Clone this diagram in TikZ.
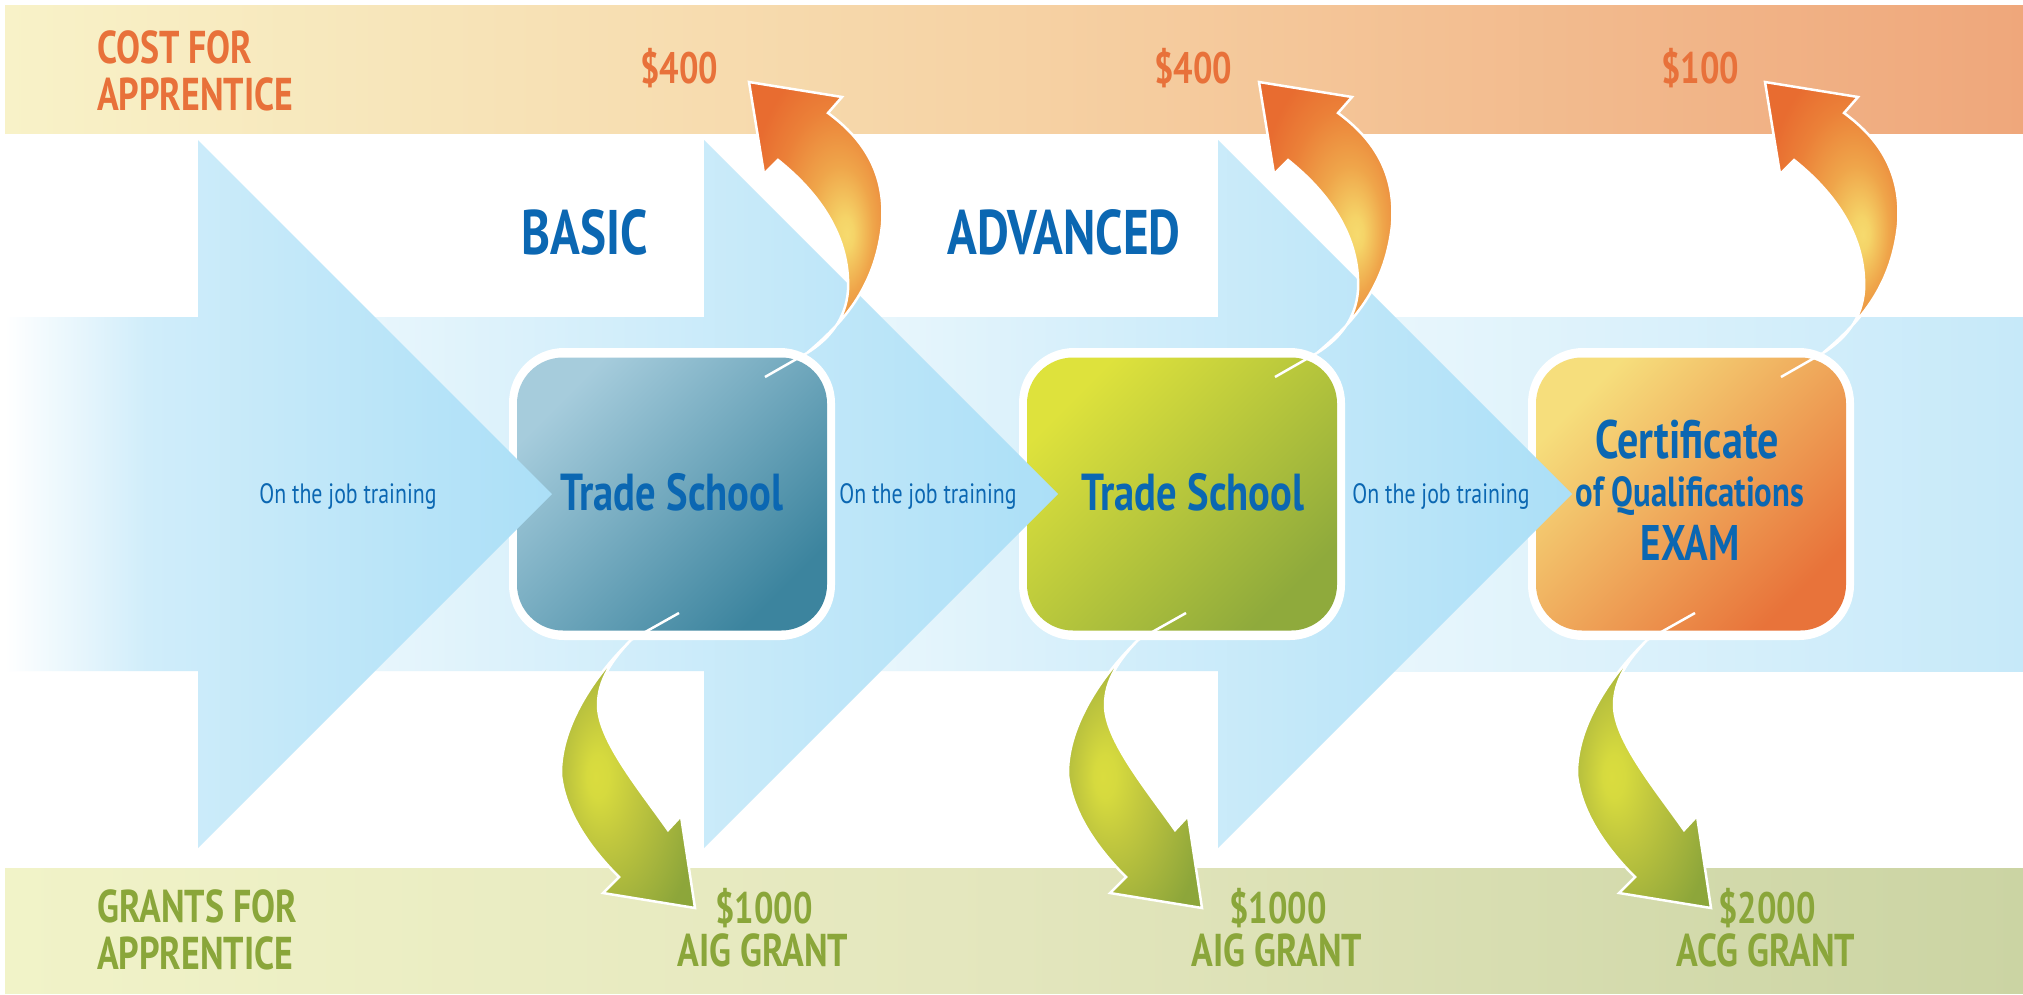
\documentclass[tikz,border=0pt]{standalone}
\usepackage{fontspec}
\newfontfamily\cf[FakeStretch=0.78]{PT Sans}
\definecolor{txtblue}{HTML}{0B67B2}
\definecolor{txtorange}{HTML}{E8713A}
\definecolor{txtgreen}{HTML}{8AA63A}
\pgfdeclarehorizontalshading{topband}{100bp}{color(0bp)=({rgb,255:red,248;green,242;blue,200}); color(25bp)=({rgb,255:red,248;green,242;blue,200}); color(50bp)=({rgb,255:red,246;green,210;blue,164}); color(75bp)=({rgb,255:red,239;green,167;blue,123}); color(100bp)=({rgb,255:red,239;green,167;blue,123})}
\pgfdeclarehorizontalshading{botband}{100bp}{color(0bp)=({rgb,255:red,241;green,243;blue,200}); color(25bp)=({rgb,255:red,241;green,243;blue,200}); color(50bp)=({rgb,255:red,227;green,230;blue,189}); color(75bp)=({rgb,255:red,203;green,212;blue,163}); color(100bp)=({rgb,255:red,203;green,212;blue,163})}
\pgfdeclarehorizontalshading{arrfirst}{100bp}{color(0bp)=(white); color(25bp)=(white); color(38bp)=({rgb,255:red,208;green,237;blue,250}); color(75bp)=({rgb,255:red,171;green,223;blue,247}); color(100bp)=({rgb,255:red,171;green,223;blue,247})}
\pgfdeclarehorizontalshading{arrnext}{100bp}{color(0bp)=({rgb,255:red,232;green,246;blue,252}); color(25bp)=({rgb,255:red,232;green,246;blue,252}); color(75bp)=({rgb,255:red,171;green,223;blue,247}); color(100bp)=({rgb,255:red,171;green,223;blue,247})}
\pgfdeclarehorizontalshading{arrlast}{100bp}{color(0bp)=({rgb,255:red,232;green,246;blue,252}); color(25bp)=({rgb,255:red,232;green,246;blue,252}); color(75bp)=({rgb,255:red,198;green,233;blue,249}); color(100bp)=({rgb,255:red,198;green,233;blue,249})}
\pgfdeclareradialshading{orarr}{\pgfpoint{10.8bp}{-3.2bp}}{color(0bp)=({rgb,255:red,246;green,218;blue,110}); color(3bp)=({rgb,255:red,245;green,212;blue,104}); color(12bp)=({rgb,255:red,239;green,165;blue,74}); color(22bp)=({rgb,255:red,235;green,128;blue,56}); color(30bp)=({rgb,255:red,232;green,108;blue,48}); color(50bp)=({rgb,255:red,232;green,108;blue,48})}
\pgfdeclareradialshading{grarr}{\pgfpoint{-12bp}{-0.5bp}}{color(0bp)=({rgb,255:red,218;green,220;blue,62}); color(4bp)=({rgb,255:red,214;green,218;blue,62}); color(12bp)=({rgb,255:red,194;green,200;blue,62}); color(22bp)=({rgb,255:red,168;green,182;blue,61}); color(32bp)=({rgb,255:red,141;green,166;blue,58}); color(50bp)=({rgb,255:red,136;green,164;blue,58})}
\tikzset{
  boxouter/.style={fill=white, rounded corners=55pt, minimum width=326pt, minimum height=292pt, inner sep=0pt},
  boxinner/.style={rounded corners=46pt, minimum width=310pt, minimum height=273pt, inner sep=0pt},
  bluebig/.style={text=txtblue, font=\cf\bfseries\fontsize{52}{52}\selectfont, inner sep=0pt, anchor=base},
  bluesmall/.style={text=txtblue, font=\cf\fontsize{28}{28}\selectfont, inner sep=0pt, anchor=base},
  stage/.style={text=txtblue, font=\cf\bfseries\fontsize{63}{63}\selectfont, inner sep=0pt, anchor=base},
  costtxt/.style={text=txtorange, font=\cf\bfseries\fontsize{46}{46}\selectfont, inner sep=0pt},
  granttxt/.style={text=txtgreen, font=\cf\bfseries\fontsize{46}{46}\selectfont, inner sep=0pt},
  money/.style={font=\cf\bfseries\fontsize{44}{44}\selectfont, inner sep=0pt, anchor=base},
  arrline/.style={draw=white, line width=2.5pt},
}
\newcommand\orangearrow[1]{%
  \begin{scope}[shift={(#1,0)}]
    \draw[white, line width=2.5pt] (765,377) -- (807,353);
    \path[arrline, shading=orarr] (749,82) -- (764,174) -- (778,160)
      .. controls (828,200) and (850,245) .. (848,290)
      .. controls (846,320) and (828,340) .. (807,353)
      .. controls (840,325) and (875,290) .. (882,225)
      .. controls (886,175) and (865,140) .. (828,113)
      -- (842,97) -- cycle;
  \end{scope}}
\newcommand\greenarrow[1]{%
  \begin{scope}[shift={(#1,0)}]
    \draw[white, line width=2.5pt] (679,613) -- (631,640);
    \path[arrline, shading=grarr] (631,640)
      .. controls (590,680) and (560,730) .. (561,775)
      .. controls (566,820) and (600,858) .. (619,877)
      -- (603,893) -- (695,908) -- (681,816) -- (668,830)
      .. controls (640,790) and (598,740) .. (598,705)
      .. controls (598,680) and (612,660) .. (631,640) -- cycle;
  \end{scope}}
\begin{document}
\begin{tikzpicture}[x=1pt,y=-1pt]
\useasboundingbox[fill=white] (0,0) rectangle (2023,994);
% bands
\path[shading=topband] (5,5) rectangle (2023,133);
\path[shading=botband] (5,868) rectangle (2023,993);
\path[shading=arrlast] (1390,317) rectangle (2023,671);
% box 3
\node[boxouter] (o3) at (1691,494) {};
\node[boxinner, top color={rgb,255:red,246;green,222;blue,124}, bottom color={rgb,255:red,232;green,115;blue,58}, shading angle=45] (i3) at (1691,494) {};
% arrow 3
\path[shading=arrnext] (880,317) -- (1218,317) -- (1218,140) -- (1572,494) -- (1218,848) -- (1218,671) -- (880,671) -- cycle;
% box 2
\node[boxouter] (o2) at (1182,494) {};
\node[boxinner, top color={rgb,255:red,222;green,226;blue,60}, bottom color={rgb,255:red,143;green,170;blue,60}, shading angle=45] (i2) at (1182,494) {};
% arrow 2
\path[shading=arrnext] (370,317) -- (704,317) -- (704,140) -- (1058,494) -- (704,848) -- (704,671) -- (370,671) -- cycle;
% box 1
\node[boxouter] (o1) at (672,494) {};
\node[boxinner, top color={rgb,255:red,166;green,204;blue,220}, bottom color={rgb,255:red,60;green,132;blue,158}, shading angle=45] (i1) at (672,494) {};
% arrow 1
\path[shading=arrfirst] (5,317) -- (198,317) -- (198,140) -- (552,494) -- (198,848) -- (198,671) -- (5,671) -- cycle;
% curved arrows
\orangearrow{0}
\orangearrow{510}
\orangearrow{1016}
\greenarrow{0}
\greenarrow{507}
\greenarrow{1016}
% texts
\node[costtxt, anchor=base west] (cost1) at (97,63) {COST FOR};
\node[costtxt, anchor=base west] (cost2) at (97,110) {APPRENTICE};
\node[granttxt, anchor=base west] (gr1) at (97,922) {GRANTS FOR};
\node[granttxt, anchor=base west] (gr2) at (97,969) {APPRENTICE};
\node[money, text=txtorange] (m1) at (679,83) {\$400};
\node[money, text=txtorange] (m2) at (1193,83) {\$400};
\node[money, text=txtorange] (m3) at (1700,83) {\$100};
\node[stage] (basic) at (585,254) {BASIC};
\node[stage] (adv) at (1064,254) {ADVANCED};
\node[bluesmall] (ojt1) at (348,503) {On the job training};
\node[bluesmall] (ojt2) at (928,503) {On the job training};
\node[bluesmall] (ojt3) at (1441,503) {On the job training};
\node[bluebig] (ts1) at (672,510) {Trade School};
\node[bluebig] (ts2) at (1193,510) {Trade School};
\node[bluebig, font=\cf\bfseries\fontsize{54}{54}\selectfont] (cq1) at (1687,458) {Certificate};
\node[bluebig, font=\cf\bfseries\fontsize{42}{42}\selectfont] (cq2) at (1690,506) {of Qualifications};
\node[bluebig, font=\cf\bfseries\fontsize{50}{50}\selectfont] (cq3) at (1690,560) {EXAM};
\node[money, text=txtgreen] (g1a) at (764,923) {\$1000};
\node[granttxt, anchor=base] (g1b) at (763,966) {AIG GRANT};
\node[money, text=txtgreen] (g2a) at (1278,923) {\$1000};
\node[granttxt, anchor=base] (g2b) at (1277,966) {AIG GRANT};
\node[money, text=txtgreen] (g3a) at (1767,923) {\$2000};
\node[granttxt, anchor=base] (g3b) at (1766,966) {ACG GRANT};
\end{tikzpicture}
\end{document}
